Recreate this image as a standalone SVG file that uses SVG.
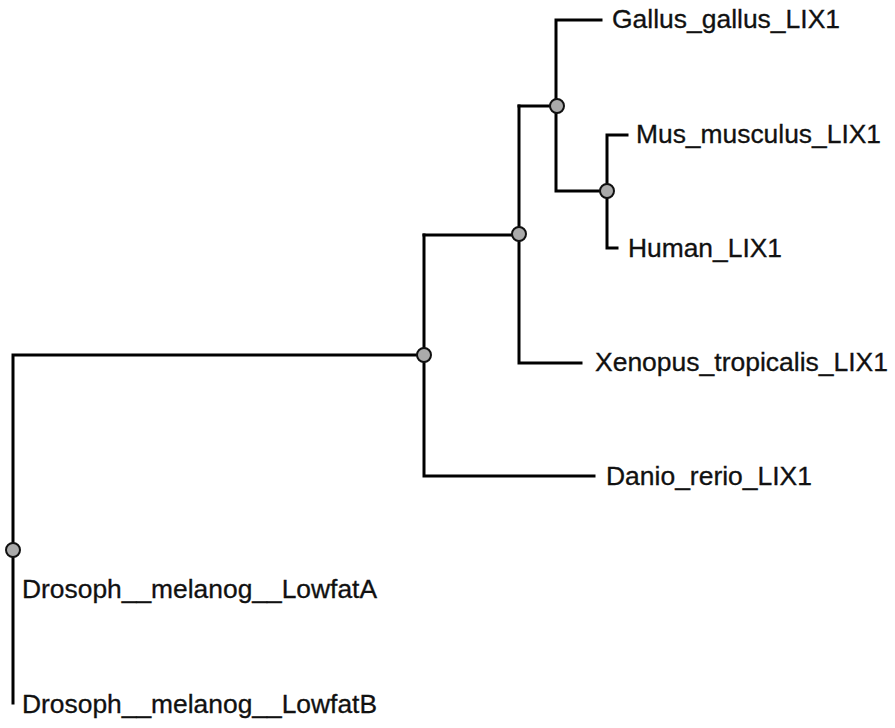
<svg xmlns="http://www.w3.org/2000/svg" width="895" height="728" viewBox="0 0 895 728">
<style>
.edge{fill:none;stroke:#000;stroke-width:3;stroke-linecap:square;stroke-linejoin:miter}
.inner{fill:#aaaaaa;stroke:#111;stroke-width:2}
.lbl{font-family:"Liberation Sans",Arial,sans-serif;font-size:25px;fill:#111;stroke:#111;stroke-width:0.3}
</style>
<rect width="895" height="728" fill="#fff"/>
<g id="connectors">
<path class="edge" d="M13,703 V355 H424"/>
<path class="edge" d="M424,235 V476 H594"/>
<path class="edge" d="M424,235 H519"/>
<path class="edge" d="M519,106 V363 H581"/>
<path class="edge" d="M519,106 H556"/>
<path class="edge" d="M601,20 H556 V191 H607"/>
<path class="edge" d="M627,135 H607 V248 H617"/>
</g>
<g id="n_root"><circle class="inner" cx="13" cy="550" r="7"/></g>
<g id="n_vert"><circle class="inner" cx="424" cy="355" r="7"/></g>
<g id="n_tetra"><circle class="inner" cx="519" cy="234" r="7"/></g>
<g id="n_amniota"><circle class="inner" cx="557" cy="106" r="7"/></g>
<g id="n_mammal"><circle class="inner" cx="607" cy="191" r="7"/></g>
<g id="t_gallus"><text class="lbl" x="612" y="28" textLength="228" lengthAdjust="spacingAndGlyphs">Gallus_gallus_LIX1</text></g>
<g id="t_mus"><text class="lbl" x="636" y="143" textLength="245" lengthAdjust="spacingAndGlyphs">Mus_musculus_LIX1</text></g>
<g id="t_human"><text class="lbl" x="628" y="257" textLength="154" lengthAdjust="spacingAndGlyphs">Human_LIX1</text></g>
<g id="t_xenopus"><text class="lbl" x="595" y="371" textLength="293" lengthAdjust="spacingAndGlyphs">Xenopus_tropicalis_LIX1</text></g>
<g id="t_danio"><text class="lbl" x="606" y="485" textLength="206" lengthAdjust="spacingAndGlyphs">Danio_rerio_LIX1</text></g>
<g id="t_drosA"><text class="lbl" x="22" y="598" textLength="355" lengthAdjust="spacingAndGlyphs">Drosoph__melanog__LowfatA</text></g>
<g id="t_drosB"><text class="lbl" x="22" y="713" textLength="355" lengthAdjust="spacingAndGlyphs">Drosoph__melanog__LowfatB</text></g>
</svg>
